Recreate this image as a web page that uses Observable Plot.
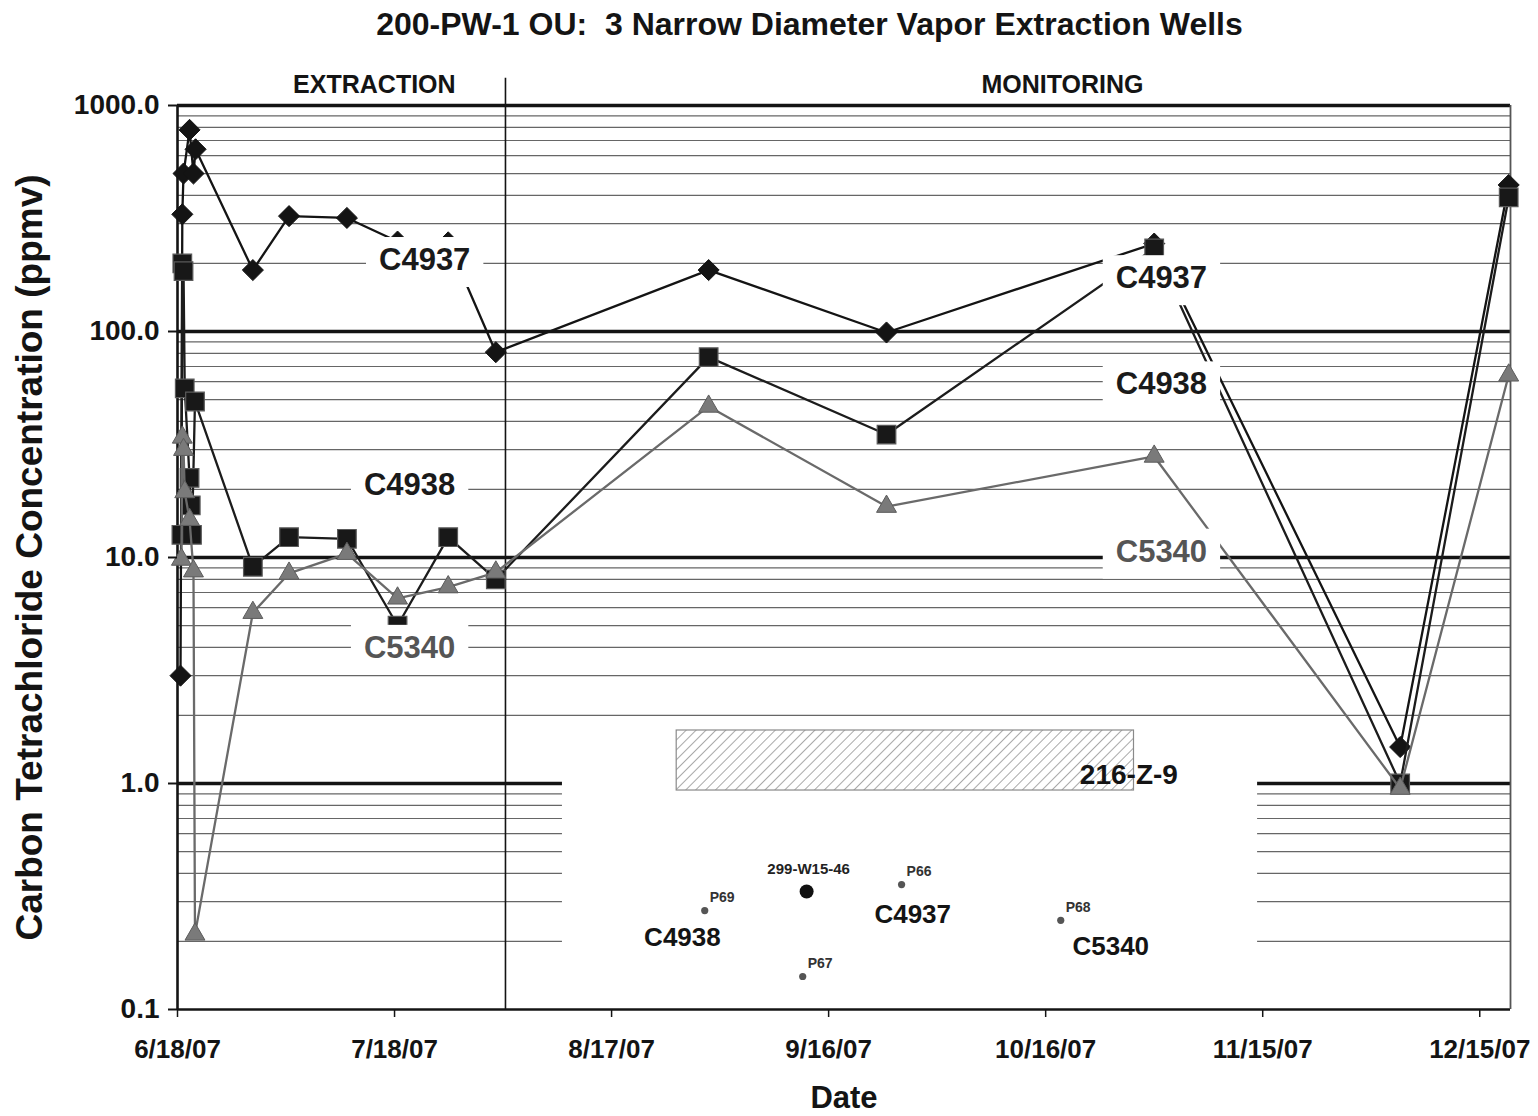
<!DOCTYPE html>
<html><head><meta charset="utf-8">
<script src="https://cdn.jsdelivr.net/npm/d3@7"></script>
<script src="https://cdn.jsdelivr.net/npm/@observablehq/plot@0.6"></script>
<style>html,body{margin:0;padding:0;background:#fff;} #chart{width:1538px;height:1116px;}</style>
</head><body><div id="chart"></div>
<script>
// ---------- data ----------
const chartTitle = "200-PW-1 OU:  3 Narrow Diameter Vapor Extraction Wells";
const yTitle = "Carbon Tetrachloride Concentration (ppmv)";
const xTitle = "Date";
const phaseNames = ["EXTRACTION", "MONITORING"];
const phaseLabelDates = ["2007-07-15T05:00Z", "2007-10-18T08:00Z"];
const phaseBoundary = "2007-08-02T08:00Z";

const xDomain = ["2007-06-18T00:00Z", "2007-12-19T06:00Z"];
const yDomain = [0.1, 1000];
const xTickDates = ["2007-06-18", "2007-07-18", "2007-08-17", "2007-09-16", "2007-10-16", "2007-11-15", "2007-12-15"];
const xTickLabels = ["6/18/07", "7/18/07", "8/17/07", "9/16/07", "10/16/07", "11/15/07", "12/15/07"];
const yTicks = [0.1, 1, 10, 100, 1000];
const yTickLabels = ["0.1", "1.0", "10.0", "100.0", "1000.0"];
const majorGrid = [1, 10, 100, 1000];
const minorGrid = [0.2, 0.3, 0.4, 0.5, 0.6, 0.7, 0.8, 0.9,
  2, 3, 4, 5, 6, 7, 8, 9, 20, 30, 40, 50, 60, 70, 80, 90,
  200, 300, 400, 500, 600, 700, 800, 900];

const c4937Dates = ["2007-06-18T10:00Z", "2007-06-18T16:00Z", "2007-06-18T20:00Z", "2007-06-19T16:00Z", "2007-06-20T05:00Z", "2007-06-20T12:00Z",
  "2007-06-28T10:00Z", "2007-07-03T10:00Z", "2007-07-11T10:00Z", "2007-07-18T10:00Z", "2007-07-25T10:00Z", "2007-08-01T00:00Z",
  "2007-08-30T10:00Z", "2007-09-24T00:00Z", "2007-10-31T00:00Z", "2007-12-04T00:00Z", "2007-12-19T00:00Z"];
const c4937Values = [3.0, 330, 500, 780, 500, 640, 187, 324, 318, 250, 248, 81, 187, 99, 245, 1.45, 445];

const c4938Dates = ["2007-06-18T13:00Z", "2007-06-18T16:00Z", "2007-06-18T20:00Z", "2007-06-19T00:00Z", "2007-06-19T16:00Z", "2007-06-19T20:00Z", "2007-06-20T00:00Z", "2007-06-20T10:00Z",
  "2007-06-28T10:00Z", "2007-07-03T10:00Z", "2007-07-11T10:00Z", "2007-07-18T10:00Z", "2007-07-25T10:00Z", "2007-08-01T00:00Z",
  "2007-08-30T10:00Z", "2007-09-24T00:00Z", "2007-10-31T00:00Z", "2007-12-04T00:00Z", "2007-12-19T00:00Z"];
const c4938Values = [12.6, 200, 185, 56, 22.5, 17, 12.6, 49, 9.1, 12.3, 12.1, 5.0, 12.3, 8.0, 77, 35, 233, 1.0, 392];

const c5340Dates = ["2007-06-18T13:00Z", "2007-06-18T16:00Z", "2007-06-18T20:00Z", "2007-06-19T00:00Z", "2007-06-19T16:00Z", "2007-06-20T05:00Z", "2007-06-20T10:00Z",
  "2007-06-28T10:00Z", "2007-07-03T10:00Z", "2007-07-11T10:00Z", "2007-07-18T10:00Z", "2007-07-25T10:00Z", "2007-08-01T00:00Z",
  "2007-08-30T10:00Z", "2007-09-24T00:00Z", "2007-10-31T00:00Z", "2007-12-04T00:00Z", "2007-12-19T00:00Z"];
const c5340Values = [9.8, 34, 30, 19.5, 14.7, 8.7, 0.215, 5.7, 8.5, 10.4, 6.6, 7.4, 8.6, 46.6, 16.8, 28, 0.95, 64];

// series labels drawn on the chart
const labelNames = ["C4937", "C4938", "C5340", "C4937", "C4938", "C5340"];
const labelDates = ["2007-07-22T04:00Z", "2007-07-20T02:00Z", "2007-07-20T02:00Z", "2007-11-01T00:00Z", "2007-11-01T00:00Z", "2007-11-01T00:00Z"];
const labelValues = [207, 20.9, 3.98, 172, 58.3, 10.6];

// inset site map (drawn in the chart's coordinates)
const insetDates = ["2007-08-10T05:00Z", "2007-11-14T07:00Z"];
const insetValues = [0.1, 1.05];
const siteName = "216-Z-9";
const siteDates = ["2007-08-26T00:00Z", "2007-10-28T05:00Z"];
const siteValues = [0.931, 1.716];
const siteLabelDate = "2007-10-27T12:00Z";
const siteLabelValue = 1.085;
const wellName = "299-W15-46";
const wellDate = "2007-09-12T23:00Z";
const wellValue = 0.333;
const probeNames = ["P69", "P66", "P68", "P67"];
const probeDates = ["2007-08-29T21:00Z", "2007-09-26T02:00Z", "2007-10-18T02:00Z", "2007-09-12T10:00Z"];
const probeValues = [0.274, 0.357, 0.248, 0.140];
const mapWellNames = ["C4938", "C4937", "C5340"];
const mapWellDates = ["2007-08-26T19:00Z", "2007-09-27T15:00Z", "2007-10-25T00:00Z"];
const mapWellValues = [0.2085, 0.263, 0.190];

// ---------- build ----------
const D = s => new Date(s);
const rows = (ds, vs) => ds.map((d, i) => ({date: D(d), value: vs[i]}));
const r37 = rows(c4937Dates, c4937Values);
const r38 = rows(c4938Dates, c4938Values);
const r40 = rows(c5340Dates, c5340Values);
const labels = labelNames.map((n, i) => ({name: n, date: D(labelDates[i]), value: labelValues[i]}));
const probes = probeNames.map((n, i) => ({name: n, date: D(probeDates[i]), value: probeValues[i]}));
const mapWells = mapWellNames.map((n, i) => ({name: n, date: D(mapWellDates[i]), value: mapWellValues[i]}));
const phases = phaseNames.map((n, i) => ({name: n, date: D(phaseLabelDates[i])}));
const xt = xTickDates.map(D);
const FONT = "'Liberation Sans', Arial, Helvetica, sans-serif";
const BLACK = "#141414";
const GRAY = "#6a6a6a";

const svg = Plot.plot({
  width: 1538, height: 1116,
  marginLeft: 177, marginRight: 28, marginTop: 105, marginBottom: 107,
  style: {fontFamily: FONT, fontWeight: "bold", background: "white", color: BLACK},
  x: {type: "utc", domain: xDomain.map(D)},
  y: {type: "log", domain: yDomain},
  marks: [
    Plot.ruleY(minorGrid, {stroke: "#666", strokeWidth: 1.2}),
    Plot.ruleY(majorGrid, {stroke: BLACK, strokeWidth: 3.6}),
    // inset map background
    Plot.rect([0], {x1: () => D(insetDates[0]), x2: () => D(insetDates[1]), y1: () => insetValues[0], y2: () => insetValues[1], fill: "white"}),
    Plot.rect([0], {x1: () => D(siteDates[0]), x2: () => D(siteDates[1]), y1: () => siteValues[0], y2: () => siteValues[1], fill: "white", stroke: "#8a8a8a", strokeWidth: 1.2, ariaDescription: "hatch"}),
    Plot.text([siteName], {x: () => D(siteLabelDate), y: () => siteLabelValue, text: d => d, fontSize: 28, fill: BLACK}),
    Plot.dot([wellName], {x: () => D(wellDate), y: () => wellValue, r: 7, fill: "#111", stroke: "none"}),
    Plot.text([wellName], {x: () => D(wellDate), y: () => wellValue, text: d => d, dx: 2, dy: -22, fontSize: 15, fill: "#222"}),
    Plot.dot(probes, {x: "date", y: "value", r: 3.6, fill: "#555", stroke: "none"}),
    Plot.text(probes, {x: "date", y: "value", text: "name", dx: 5, dy: -13, textAnchor: "start", fontSize: 14, fill: "#333"}),
    Plot.text(mapWells, {x: "date", y: "value", text: "name", fontSize: 26, fill: BLACK}),
    // phase separator and labels
    Plot.ruleX([D(phaseBoundary)], {y1: 0.1, y2: 1320, stroke: BLACK, strokeWidth: 1.6}),
    Plot.text(phases, {x: "date", frameAnchor: "top", lineAnchor: "middle", dy: -21, text: "name", fontSize: 25, fill: BLACK}),
    // frame
    Plot.ruleY([0.1], {stroke: BLACK, strokeWidth: 2.4}),
    Plot.ruleX([D(xDomain[0])], {y1: 0.1, y2: 1000, stroke: BLACK, strokeWidth: 2.6}),
    Plot.ruleX([D(xDomain[1])], {y1: 0.1, y2: 1000, stroke: "#555", strokeWidth: 1.8}),
    // series
    Plot.line(r37, {x: "date", y: "value", stroke: BLACK, strokeWidth: 2.3}),
    Plot.dot(r37, {x: "date", y: "value", symbol: "diamond2", r: 9.5, fill: BLACK, stroke: BLACK, strokeWidth: 1}),
    Plot.line(r38, {x: "date", y: "value", stroke: "#1c1c1c", strokeWidth: 2.3}),
    Plot.dot(r38, {x: "date", y: "value", symbol: "square", r: 10.5, fill: "#181818", stroke: "#5a5a5a", strokeWidth: 1.2}),
    Plot.line(r40, {x: "date", y: "value", stroke: GRAY, strokeWidth: 2.3}),
    Plot.dot(r40, {x: "date", y: "value", symbol: "triangle", r: 7.4, fill: "#7a7a7a", stroke: "#5c5c5c", strokeWidth: 1}),
    // series labels
    Plot.text(labels, {x: "date", y: "value", text: "name", fontSize: 31, fill: d => d.name === "C5340" ? "#555" : "#1a1a1a", ariaDescription: "boxlabel"}),
    // axes
    Plot.axisY({ticks: yTicks, tickFormat: d => yTickLabels[yTicks.indexOf(d)], tickSize: 9, tickPadding: 9, fontSize: 28, stroke: BLACK, strokeWidth: 2, fill: BLACK, label: null}),
    Plot.axisX({ticks: xt, tickFormat: d => xTickLabels[xt.findIndex(t => +t === +d)], tickSize: 8, tickPadding: 22, fontSize: 26, stroke: BLACK, strokeWidth: 1.5, fill: BLACK, label: null}),
    // titles
    Plot.text([chartTitle], {frameAnchor: "top-left", textAnchor: "middle", lineAnchor: "middle", dx: 632, dy: -81, text: d => d, fontSize: 32, fill: BLACK}),
    Plot.text([yTitle], {frameAnchor: "left", textAnchor: "middle", lineAnchor: "middle", dx: -147, rotate: -90, text: d => d, fontSize: 37, fill: BLACK}),
    Plot.text([xTitle], {frameAnchor: "bottom", lineAnchor: "middle", dy: 89, text: d => d, fontSize: 31, fill: BLACK})
  ]
});
document.getElementById("chart").appendChild(svg);

// hatch pattern for the 216-Z-9 site
const NS = "http://www.w3.org/2000/svg";
const defs = document.createElementNS(NS, "defs");
defs.innerHTML = '<pattern id="hatch" patternUnits="userSpaceOnUse" width="7" height="7" patternTransform="rotate(45)"><rect width="7" height="7" fill="white"/><line x1="0" y1="0" x2="0" y2="7" stroke="#7a7a7a" stroke-width="1.3"/></pattern>';
svg.insertBefore(defs, svg.firstChild);
svg.querySelectorAll('g[aria-description="hatch"] rect').forEach(r => r.setAttribute("fill", "url(#hatch)"));

// white boxes behind the series labels
svg.querySelectorAll('g[aria-description="boxlabel"] text').forEach(t => {
  const b = t.getBBox();
  const padX = 13, padTop = 5, padBottom = 10;
  const r = document.createElementNS(NS, "rect");
  r.setAttribute("x", b.x - padX);
  r.setAttribute("y", b.y - padTop);
  r.setAttribute("width", b.width + 2 * padX);
  r.setAttribute("height", b.height + padTop + padBottom);
  r.setAttribute("fill", "white");
  r.setAttribute("stroke", "none");
  const tr = t.getAttribute("transform");
  if (tr) r.setAttribute("transform", tr);
  t.parentNode.insertBefore(r, t);
});
</script>
</body></html>
